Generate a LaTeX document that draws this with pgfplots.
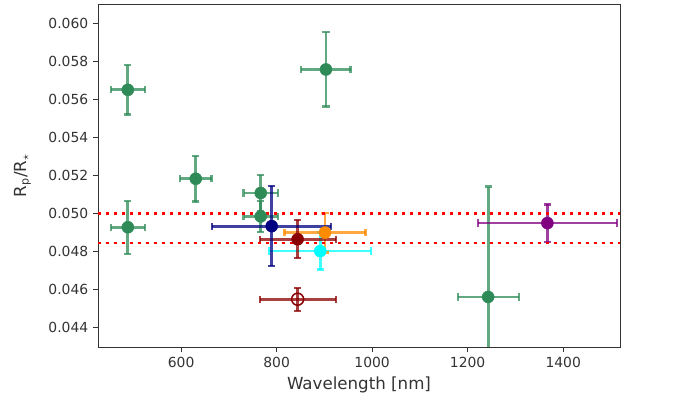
\documentclass[border=0pt]{standalone}
\usepackage{pgfplots}
\pgfplotsset{compat=1.18}
\usepackage{fontspec}
\setmainfont{DejaVu Sans}

\definecolor{sgreen}{HTML}{2E8B57}
\definecolor{dred}{HTML}{8B0000}
\definecolor{dorange}{HTML}{FF8C00}
\definecolor{navyb}{HTML}{000080}
\definecolor{purp}{HTML}{800080}
\definecolor{cyn}{HTML}{00FFFF}

% one pixel of the 680x400 figure
\newlength{\px}\setlength{\px}{0.72pt}

\pgfplotsset{
  ebar/.style={
    only marks, mark=*, mark size=6\px,
    line width=2.8\px,
    mark options={draw=#1, fill=#1, line width=0.5\px},
    error bars/.cd,
      x dir=both, x explicit, y dir=both, y explicit,
      error bar style={line width=2.8\px, draw=#1, opacity=0.75},
      error mark=|,
      error mark options={line width=2.2\px, mark size=3.6\px, draw=#1, opacity=0.75},
    /pgfplots/.cd,
  },
}

\begin{document}
\begin{tikzpicture}
\path[use as bounding box] (0,0) rectangle (680\px,-400\px);
\begin{axis}[
  at={(98\px,-4\px)}, anchor=north west,
  scale only axis,
  width=522\px, height=343\px,
  xmin=426, xmax=1519,
  ymin=0.04298, ymax=0.0610,
  xtick={600,800,1000,1200,1400},
  ytick={0.044,0.046,0.048,0.050,0.052,0.054,0.056,0.058,0.060},
  xtick pos=left, ytick pos=left,
  tick align=outside,
  major tick length=4.9\px,
  tick style={line width=0.8\px, color=black!80},
  axis line style={line width=0.8\px, color=black!80},
  ticklabel style={font=\fontsize{10}{12}\selectfont, color=black!80},
  xticklabel style={/pgf/number format/.cd, 1000 sep={}},
  yticklabel style={/pgf/number format/.cd, fixed, fixed zerofill, precision=3},
  /pgf/number format/assume math mode=true,
  scaled y ticks=false,
  xlabel={Wavelength [nm]},
  ylabel={R\textsubscript{p}/R$_\star$},
  label style={font=\fontsize{12}{14}\selectfont, color=black!80},
  xlabel style={yshift=0\px},
  ylabel style={yshift=8\px},
  clip=true,
]
% green points
\addplot[ebar=sgreen] coordinates {
  (488.5,0.05649) +- (35.6,0.0013)
  (488.5,0.04927) +- (35.6,0.0014)
  (630.7,0.05182) +- (33,0.0012)
  (766.7,0.05107) +- (36,0.00093)
  (766.7,0.04984) +- (36,0.0008)
  (903.3,0.05756) +- (51.6,0.00195)
  (1242.9,0.04561) +- (63.8,0.0058)
};
\addplot[ebar=purp] coordinates {(1367,0.04949) +- (146,0.00098)};
\addplot[ebar=cyn] coordinates {(891.4,0.04802) +- (107,0.00097)};
\addplot[ebar=dorange] coordinates {(901.3,0.04899) +- (85,0.00105)};
\addplot[ebar=dred] coordinates {(844,0.04864) +- (79.5,0.001)};
\addplot[ebar=dred, mark=o, mark options={draw=dred, fill=none, line width=1.5\px}]
  coordinates {(844,0.04549) +- (79.5,0.0006)};
\addplot[ebar=navyb] coordinates {(789.7,0.04933) +- (125,0.0021)};
% reference levels
\addplot[red, line width=2.6\px, dash pattern=on 2.6\px off 5.4\px] coordinates {(426,0.0500) (1519,0.0500)};
\addplot[red, line width=2.6\px, dash pattern=on 2.6\px off 5.4\px] coordinates {(426,0.04845) (1519,0.04845)};
\end{axis}
\end{tikzpicture}
\end{document}
